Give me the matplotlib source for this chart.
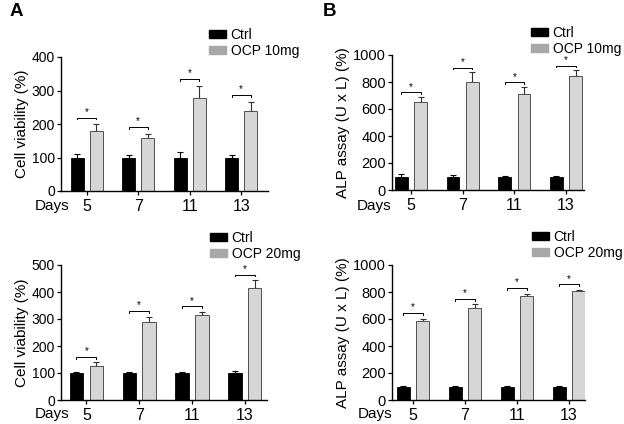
import matplotlib
matplotlib.use("Agg")
import matplotlib.pyplot as plt
import matplotlib.patches as mpatches
import numpy as np

plt.rcParams['font.family'] = ['Liberation Sans', 'DejaVu Sans']

days = ["5", "7", "11", "13"]

# Panel A top (Cell viability, OCP 10mg)
a1_ctrl = [100, 100, 100, 100]
a1_ctrl_err = [9, 8, 16, 8]
a1_ocp = [179, 159, 278, 240]
a1_ocp_err = [20, 12, 36, 26]

# Panel B top (ALP, OCP 10mg)
b1_ctrl = [100, 100, 100, 100]
b1_ctrl_err = [20, 8, 2, 6]
b1_ocp = [654, 800, 711, 847]
b1_ocp_err = [38, 75, 54, 42]

# Panel A bottom (Cell viability, OCP 20mg)
a2_ctrl = [100, 100, 100, 100]
a2_ctrl_err = [3, 3, 3, 6]
a2_ocp = [127, 290, 315, 416]
a2_ocp_err = [12, 19, 12, 28]

# Panel B bottom (ALP, OCP 20mg)
b2_ctrl = [100, 100, 100, 100]
b2_ctrl_err = [3, 3, 2, 2]
b2_ocp = [583, 681, 773, 807]
b2_ocp_err = [20, 28, 15, 10]

CTRL_C = "#000000"
OCP_C = "#d6d6d6"
LEG_OCP_C = "#a8a8a8"

W, H = 624, 424
fig = plt.figure(figsize=(W / 100, H / 100), dpi=100)


def px_axes(left, top, right, bottom):
    return fig.add_axes([left / W, 1 - bottom / H, (right - left) / W, (bottom - top) / H])


def panel(ax, ctrl, ctrl_err, ocp, ocp_err, ymax, ystep, xlim, ylabel, leg_label, leg_xy,
          days_xy, ytick_size, br_off):
    x = np.arange(len(days))
    off = 0.1875
    bw = 0.25
    ax.bar(x - off, ctrl, bw, color=CTRL_C, edgecolor=CTRL_C, linewidth=0.6, zorder=2)
    ax.errorbar(x - off, ctrl, yerr=[np.zeros(4), ctrl_err], fmt='none', ecolor='black',
                elinewidth=0.8, capsize=2.2, capthick=0.8, zorder=1)
    ax.bar(x + off, ocp, bw, color=OCP_C, edgecolor='#505050', linewidth=0.7, zorder=2)
    ax.errorbar(x + off, ocp, yerr=[np.zeros(4), ocp_err], fmt='none', ecolor='#303030',
                elinewidth=0.8, capsize=2.2, capthick=0.8, zorder=1)
    # significance brackets
    for xi, v, e in zip(x, ocp, ocp_err):
        yb = v + e + br_off * ymax
        tick = 0.012 * ymax
        ax.plot([xi - off, xi - off, xi + off, xi + off], [yb - tick, yb, yb, yb - tick],
                color='black', lw=0.7, clip_on=False)
        ax.text(xi, yb + 0.005 * ymax, "*", ha='center', va='bottom', fontsize=7)
    ax.set_xlim(*xlim)
    ax.set_ylim(0, ymax)
    ax.set_yticks(np.arange(0, ymax + 1, ystep))
    ax.set_xticks(x)
    ax.set_xticklabels(days)
    for s in ['top', 'right']:
        ax.spines[s].set_visible(False)
    for s in ['left', 'bottom']:
        ax.spines[s].set_linewidth(1.0)
    ax.tick_params(axis='y', direction='out', length=3, width=0.9, labelsize=ytick_size, pad=1.5)
    ax.tick_params(axis='x', direction='out', length=3, width=0.9, labelsize=11.5, pad=2.5)
    ax.set_ylabel(ylabel, fontsize=11, labelpad=2)
    fig.text(days_xy[0] / W, 1 - days_xy[1] / H, "Days", ha='left', va='center', fontsize=11)
    handles = [mpatches.Patch(color=CTRL_C, label="Ctrl"),
               mpatches.Patch(color=LEG_OCP_C, label=leg_label)]
    ax.legend(handles=handles, loc='upper left', bbox_to_anchor=(leg_xy[0] / W, 1 - leg_xy[1] / H),
              bbox_transform=fig.transFigure, frameon=False, fontsize=10,
              handlelength=1.2, handleheight=0.45, handletextpad=0.35, labelspacing=0.15,
              borderpad=0, borderaxespad=0)


axA1 = px_axes(61, 57, 268, 191)
panel(axA1, a1_ctrl, a1_ctrl_err, a1_ocp, a1_ocp_err, 400, 100, (-0.5, 3.52),
      "Cell viability (%)", "OCP 10mg", (209, 28), (35, 206), 10, 0.05)

axB1 = px_axes(392, 55, 584, 190)
panel(axB1, b1_ctrl, b1_ctrl_err, b1_ocp, b1_ocp_err, 1000, 200, (-0.37, 3.35),
      "ALP assay (U x L) (%)", "OCP 10mg", (531, 26), (357, 206), 10.5, 0.032)

axA2 = px_axes(61, 265, 267, 400)
panel(axA2, a2_ctrl, a2_ctrl_err, a2_ocp, a2_ocp_err, 500, 100, (-0.48, 3.42),
      "Cell viability (%)", "OCP 20mg", (210, 231), (35, 414), 10, 0.04)

axB2 = px_axes(392, 265, 585, 400)
panel(axB2, b2_ctrl, b2_ctrl_err, b2_ocp, b2_ocp_err, 1000, 200, (-0.40, 3.31),
      "ALP assay (U x L) (%)", "OCP 20mg", (532, 230), (358, 414), 10.5, 0.04)

fig.text(10 / W, 1 - 3 / H, "A", fontsize=13.5, fontweight='bold', ha='left', va='top')
fig.text(323 / W, 1 - 3 / H, "B", fontsize=13.5, fontweight='bold', ha='left', va='top')

fig.savefig("out.png", dpi=100)
